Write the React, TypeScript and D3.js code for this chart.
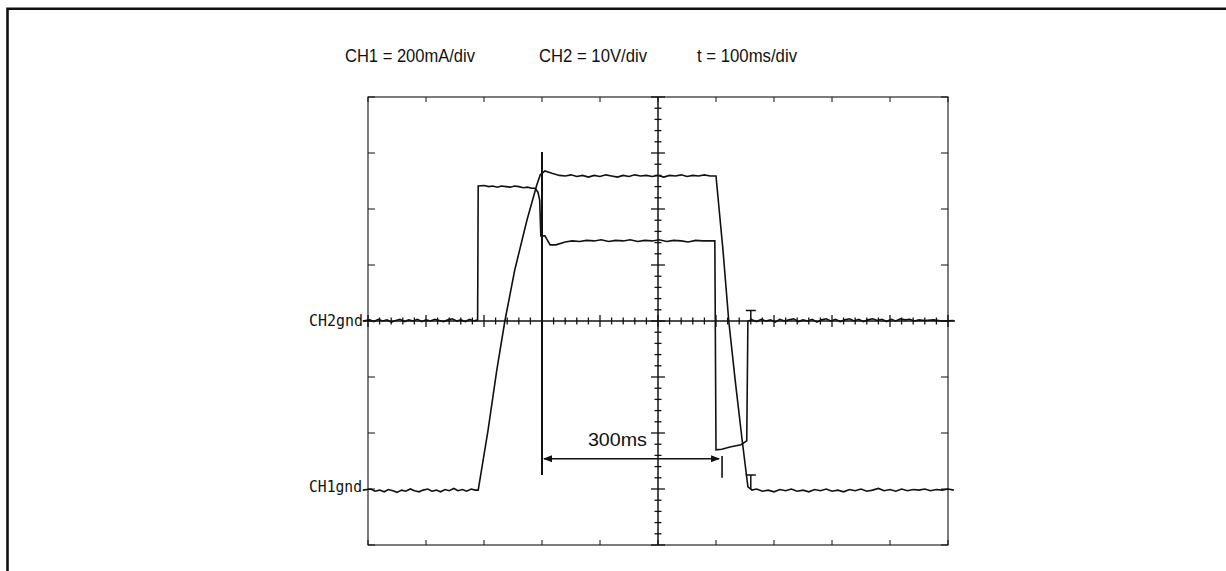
import React from 'react';
import * as d3 from 'd3';

// time in ms, level in divisions (0 = CH2gnd, centre line)
const ch1Current: [number, number][] = [
  [-9, -3.02], [5, -3.0], [12, -3.04], [20, -3.02], [28, -3.05], [35, -3.01], [43, -3.03],
  [50, -3.06], [58, -3.02], [65, -3.04], [73, -3.0], [80, -3.03], [88, -3.05], [95, -3.02],
  [103, -3.0], [110, -3.04], [118, -3.02], [125, -3.05], [133, -3.01], [140, -3.03], [148, -2.99],
  [155, -3.03], [163, -3.01], [170, -3.04], [178, -3.0], [185, -3.02],
  [190, -3.02], [207, -1.95], [222, -0.88], [236, 0], [253, 0.91], [274, 1.8], [291, 2.43],
  [297, 2.61], [305, 2.68], [317, 2.64], [330, 2.6], [340, 2.59], [350, 2.61], [360, 2.58],
  [370, 2.6], [380, 2.57], [390, 2.6], [400, 2.58], [410, 2.61], [420, 2.59], [430, 2.57],
  [440, 2.6], [450, 2.58], [460, 2.61], [470, 2.59], [480, 2.6], [490, 2.58], [500, 2.6],
  [510, 2.57], [520, 2.6], [530, 2.59], [540, 2.61], [550, 2.58], [560, 2.6], [570, 2.59],
  [580, 2.61], [590, 2.59], [600, 2.59], [612, 1.27], [622, 0], [633, -1.05],
  [645, -2.12], [655, -2.96], [662, -3.02], [670, -3.0], [680, -3.04], [690, -3.02],
  [700, -3.05], [710, -3.01], [720, -3.03], [730, -3.0], [740, -3.04], [750, -3.02],
  [760, -3.05], [770, -3.01], [780, -3.03], [790, -3.0], [800, -3.04], [810, -3.02],
  [820, -3.05], [830, -3.01], [840, -3.03], [850, -3.0], [860, -3.04], [870, -3.02],
  [880, -2.99], [890, -3.03], [900, -3.01], [910, -3.04], [920, -3.0], [930, -3.03],
  [940, -3.01], [950, -3.02], [960, -3.0], [970, -3.03], [980, -3.01], [990, -3.02],
  [1000, -3.0], [1010, -3.02],
];

const ch2Voltage: [number, number][] = [
  [-9, 0.0], [3, 0.02], [10, -0.01], [18, 0.03], [25, 0.0], [33, 0.02], [40, -0.02],
  [48, 0.01], [55, 0.03], [63, -0.01], [70, 0.02], [78, 0.0], [85, 0.03], [93, -0.01],
  [100, 0.02], [108, 0.0], [115, 0.03], [123, 0.01], [130, -0.01], [138, 0.02], [145, 0.04],
  [153, 0.0], [160, 0.02], [168, -0.01], [175, 0.03], [183, 0.0], [188, 0.02],
  [189, 0.0], [190, 2.41], [200, 2.42], [208, 2.4], [215, 2.41], [223, 2.39], [230, 2.41],
  [238, 2.4], [245, 2.39], [253, 2.41], [260, 2.4], [268, 2.38], [275, 2.39], [282, 2.37],
  [288, 2.37], [293, 2.3], [296, 2.16], [298, 1.52], [305, 1.52], [314, 1.36],
  [324, 1.36], [340, 1.41], [352, 1.43], [365, 1.42], [377, 1.44], [390, 1.43], [402, 1.45],
  [415, 1.42], [427, 1.44], [440, 1.43], [452, 1.45], [465, 1.42], [477, 1.44], [490, 1.43],
  [502, 1.45], [515, 1.42], [527, 1.44], [540, 1.43], [552, 1.41], [565, 1.44], [577, 1.43],
  [590, 1.43], [598, 1.43], [600, -2.3],
  [610, -2.29], [624, -2.25], [643, -2.21], [653, -2.14], [655, 0], [662, 0.02], [670, -0.01],
  [678, 0.03], [686, 0.0], [694, 0.02], [702, -0.02], [710, 0.03], [718, 0.0], [726, 0.02],
  [734, 0.04], [742, -0.01], [750, 0.02], [758, 0.0], [766, 0.03], [774, -0.02], [782, 0.02],
  [790, 0.04], [798, 0.0], [806, 0.03], [814, -0.01], [822, 0.02], [830, 0.04], [838, 0.0],
  [846, 0.03], [854, -0.01], [862, 0.02], [870, 0.04], [878, 0.01], [886, 0.03], [894, -0.01],
  [902, 0.03], [910, 0.0], [918, 0.04], [926, 0.02], [934, 0.03], [942, 0.0], [950, 0.02],
  [960, 0.01], [975, 0.02], [990, 0.0], [1010, 0.01],
];

const headerLabels = ['CH1 = 200mA/div', 'CH2 = 10V/div', 't = 100ms/div'];
const cursorStart = 300;
const cursorEnd = 607;
const cursorLabel = '300ms';
const markerTime = 660;

const W = 1226;
const H = 571;

const App = () => {
  const x = d3.scaleLinear().domain([0, 1000]).range([368, 948]);
  const y = d3.scaleLinear().domain([-4, 4]).range([545, 97]);

  const line = d3.line<[number, number]>()
    .x(d => x(d[0]))
    .y(d => y(d[1]));

  const majorX = d3.range(0, 1001, 100);
  const minorX = d3.range(0, 1001, 20);
  const majorY = d3.range(-4, 4.01, 1);
  const minorY = d3.range(-4, 4.01, 0.2);

  const ink = '#111';
  const x0 = x(0), x1 = x(1000), y0 = y(-4), y1 = y(4);
  const cx = x(500), cy = y(0);

  return (
    <svg width={W} height={H} style={{ position: 'absolute', left: 0, top: 0, display: 'block' }}>
      <rect width={W} height={H} fill="#fff" />
      {/* outer frame */}
      <path d={`M7.5,${H} V8.8 H${W}`} fill="none" stroke={ink} strokeWidth={2.6} />

      {/* header */}
      <g fontFamily="Liberation Sans, Arial, sans-serif" fontSize={19} fill={ink}>
        <text x={345} y={62} textLength={130} lengthAdjust="spacingAndGlyphs">{headerLabels[0]}</text>
        <text x={539} y={62} textLength={108} lengthAdjust="spacingAndGlyphs">{headerLabels[1]}</text>
        <text x={697} y={62} textLength={100} lengthAdjust="spacingAndGlyphs">{headerLabels[2]}</text>
      </g>

      {/* graticule border */}
      <rect x={x0} y={y1} width={x1 - x0} height={y0 - y1} fill="none" stroke={ink} strokeWidth={1.1} />
      {majorY.map((v, i) => (
        <g key={'by' + i} stroke={ink} strokeWidth={1}>
          <line x1={x0} x2={x0 + 7} y1={y(v)} y2={y(v)} />
          <line x1={x1} x2={x1 - 7} y1={y(v)} y2={y(v)} />
        </g>
      ))}
      {majorX.map((v, i) => (
        <g key={'bx' + i} stroke={ink} strokeWidth={1}>
          <line x1={x(v)} x2={x(v)} y1={y1} y2={y1 + 5} />
          <line x1={x(v)} x2={x(v)} y1={y0} y2={y0 - 5} />
        </g>
      ))}

      {/* centre axes */}
      <line x1={363} x2={955} y1={cy} y2={cy} stroke={ink} strokeWidth={1.5} />
      <line x1={cx} x2={cx} y1={y1} y2={y0} stroke={ink} strokeWidth={1.5} />
      {minorX.map((v, i) => {
        const major = v % 100 === 0;
        const h = major ? 6 : 3.5;
        return <line key={'mx' + i} x1={x(v)} x2={x(v)} y1={cy - h} y2={cy + h} stroke={ink} strokeWidth={1.3} />;
      })}
      {minorY.map((v, i) => {
        const major = Math.abs(v - Math.round(v)) < 1e-6;
        const w = major ? 7 : 3.5;
        return <line key={'my' + i} x1={cx - w} x2={cx + w} y1={y(v)} y2={y(v)} stroke={ink} strokeWidth={1.3} />;
      })}

      {/* traces */}
      <path d={line(ch2Voltage) || ''} fill="none" stroke={ink} strokeWidth={1.6} />
      <path d={line(ch1Current) || ''} fill="none" stroke={ink} strokeWidth={1.6} />

      {/* ground labels */}
      <g fontFamily="DejaVu Sans Mono, monospace" fontSize={15} fill={ink}>
        <text x={309} y={326} textLength={54} lengthAdjust="spacingAndGlyphs">CH2gnd</text>
        <text x={309} y={492} textLength={53} lengthAdjust="spacingAndGlyphs">CH1gnd</text>
      </g>

      {/* cursors */}
      <line x1={x(cursorStart)} x2={x(cursorStart)} y1={y(3.02)} y2={y(-2.75)} stroke={ink} strokeWidth={2} />
      <line x1={x(cursorEnd) + 2} x2={x(cursorEnd) + 2} y1={y(-2.41)} y2={y(-2.8)} stroke={ink} strokeWidth={1.6} />
      <line x1={x(cursorStart) + 2} x2={x(cursorEnd) - 1} y1={y(-2.46)} y2={y(-2.46)} stroke={ink} strokeWidth={1.5} />
      <path d={`M${x(cursorStart) + 1},${y(-2.46)} l9,-3.5 v7 z`} fill={ink} />
      <path d={`M${x(cursorEnd)},${y(-2.46)} l-9,-3.5 v7 z`} fill={ink} />
      <text x={x(430)} y={446} textAnchor="middle" fontFamily="Liberation Sans, Arial, sans-serif"
        fontSize={19} textLength={59} lengthAdjust="spacingAndGlyphs" fill={ink}>{cursorLabel}</text>

      {/* T markers */}
      {[0, -3].map((lvl, i) => {
        const top = y(lvl + 0.25) + (i === 0 ? 3.5 : 0);
        return (
          <g key={'t' + i} stroke={ink} strokeWidth={1.5}>
            <line x1={x(markerTime)} x2={x(markerTime)} y1={y(lvl)} y2={top} />
            <line x1={x(markerTime) - 5} x2={x(markerTime) + 5} y1={top} y2={top} />
          </g>
        );
      })}
    </svg>
  );
};

export default App;
